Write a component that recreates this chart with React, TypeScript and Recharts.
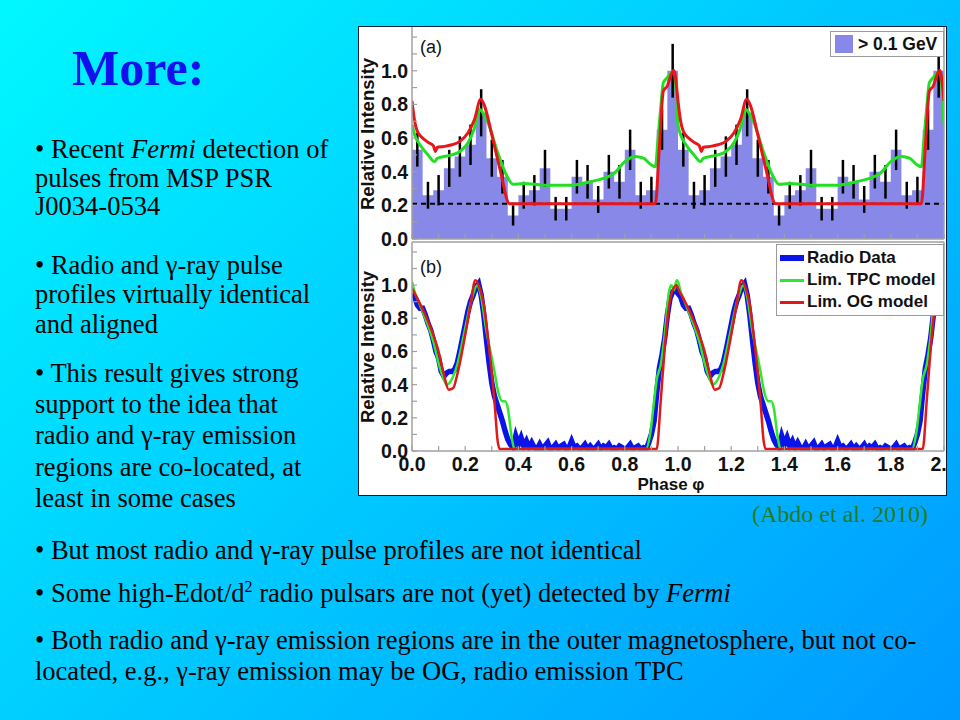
import { ComposedChart, Area, Line, Scatter, ErrorBar, XAxis, YAxis, ReferenceLine, Legend } from 'recharts'

// gamma-ray light curve (> 0.1 GeV), 25 bins per rotation, plotted over two rotations
const BIN_WIDTH = 0.04
const GAMMA_COUNTS = [0.53, 0.26, 0.29, 0.42, 0.49, 0.56, 0.75, 0.48, 0.37, 0.14, 0.26, 0.29, 0.42, 0.18, 0.18, 0.37, 0.34, 0.235, 0.4, 0.34, 0.53, 0.26, 0.29, 0.65, 1.0]
const GAMMA_ERRORS = [0.1, 0.08, 0.09, 0.11, 0.12, 0.12, 0.14, 0.11, 0.1, 0.06, 0.08, 0.09, 0.11, 0.07, 0.07, 0.1, 0.1, 0.08, 0.1, 0.1, 0.12, 0.08, 0.08, 0.12, 0.16]
const GAMMA_BACKGROUND = 0.21

// panel (a) model curves, one rotation
const TPC_A_PHASE = [0, 0.01, 0.03, 0.06, 0.085, 0.095, 0.12, 0.15, 0.18, 0.21, 0.235, 0.255, 0.27, 0.286, 0.323, 0.355, 0.38, 0.42, 0.5, 0.6, 0.67, 0.72, 0.76, 0.8, 0.84, 0.87, 0.9, 0.915, 0.925, 0.935, 0.945, 0.96, 0.975, 0.985, 0.995, 1.0]
const TPC_A = [0.68, 0.62, 0.56, 0.5, 0.46, 0.48, 0.49, 0.5, 0.52, 0.57, 0.66, 0.77, 0.74, 0.69, 0.51, 0.38, 0.325, 0.33, 0.32, 0.32, 0.34, 0.36, 0.39, 0.46, 0.49, 0.48, 0.44, 0.43, 0.6, 0.78, 0.93, 0.96, 0.99, 1.0, 0.82, 0.68]
const OG_A_PHASE = [0, 0.01, 0.02, 0.04, 0.06, 0.08, 0.088, 0.095, 0.12, 0.15, 0.18, 0.21, 0.235, 0.258, 0.273, 0.3, 0.33, 0.367, 0.915, 0.93, 0.945, 0.96, 0.975, 0.985, 0.995, 1.0]
const OG_A = [0.82, 0.7, 0.64, 0.6, 0.575, 0.555, 0.52, 0.545, 0.55, 0.56, 0.58, 0.63, 0.71, 0.83, 0.79, 0.62, 0.42, 0.21, 0.21, 0.55, 0.88, 0.91, 0.98, 1.0, 0.9, 0.82]

// panel (b) radio profile, sampled every 0.01 in phase
const RADIO_STEP = 0.01
const RADIO = [
  0.95, 0.93, 0.88, 0.86, 0.86, 0.82, 0.77, 0.73, 0.67, 0.6,
  0.56, 0.48, 0.45, 0.47, 0.48, 0.48, 0.49, 0.53, 0.6, 0.68,
  0.76, 0.84, 0.9, 0.94, 0.99, 1.01, 0.94, 0.82, 0.67, 0.53,
  0.41, 0.33, 0.28, 0.23, 0.18, 0.12, 0.07, 0.04, 0.02, 0.09,
  0.04, 0.08, 0.03, 0.06, 0.02, 0.05, 0.02, 0.01, 0.04, 0.01,
  0.03, 0.05, 0.01, 0.02, 0.04, 0.01, 0.03, 0.04, 0.01, 0.02,
  0.06, 0.02, 0.03, 0.01, 0.02, 0.04, 0.01, 0.03, 0.01, 0.02,
  0.04, 0.01, 0.03, 0.02, 0.04, 0.01, 0.02, 0.01, 0.03, 0.02,
  0.01, 0.02, 0.04, 0.01, 0.02, 0.03, 0.01, 0.02, 0.01, 0.05,
  0.1, 0.18, 0.35, 0.5, 0.58, 0.68, 0.82, 0.92, 0.96, 0.97,
  0.95,
]
const TPC_B_PHASE = [0, 0.01, 0.02, 0.05, 0.08, 0.1, 0.12, 0.13, 0.145, 0.17, 0.2, 0.225, 0.245, 0.26, 0.28, 0.295, 0.31, 0.325, 0.34, 0.35, 0.36, 0.375, 0.385, 0.88, 0.895, 0.91, 0.92, 0.935, 0.95, 0.965, 0.975, 0.985, 0.995, 1.0]
const TPC_B = [1.02, 0.96, 0.92, 0.8, 0.66, 0.53, 0.43, 0.4, 0.42, 0.52, 0.74, 0.92, 1.0, 0.93, 0.72, 0.6, 0.48, 0.35, 0.3, 0.3, 0.26, 0.08, 0.012, 0.012, 0.1, 0.3, 0.43, 0.52, 0.7, 0.95, 1.0, 0.97, 1.03, 1.02]
const OG_B_PHASE = [0, 0.02, 0.05, 0.08, 0.1, 0.12, 0.138, 0.155, 0.17, 0.2, 0.22, 0.238, 0.255, 0.27, 0.29, 0.31, 0.322, 0.33, 0.92, 0.935, 0.95, 0.965, 0.98, 0.995, 1.0]
const OG_B = [0.98, 0.92, 0.82, 0.7, 0.6, 0.46, 0.37, 0.38, 0.46, 0.7, 0.88, 1.03, 0.98, 0.88, 0.62, 0.3, 0.06, 0.012, 0.012, 0.3, 0.62, 0.86, 0.97, 1.0, 0.98]

const PHASE_TICKS = [0, 0.1, 0.2, 0.3, 0.4, 0.5, 0.6, 0.7, 0.8, 0.9, 1.0, 1.1, 1.2, 1.3, 1.4, 1.5, 1.6, 1.7, 1.8, 1.9, 2.0]
const INTENSITY_TICKS = [0, 0.1, 0.2, 0.3, 0.4, 0.5, 0.6, 0.7, 0.8, 0.9, 1.0, 1.1, 1.2]
const Y_MAX = 1.26

const SANS = "'Liberation Sans', Arial, Helvetica, sans-serif"
const SERIF = "'Liberation Serif', 'Times New Roman', Times, serif"
const AXIS = '#a0a0a0'

type Pt = { phase: number; value: number }

// the profile is phase-folded, so the same rotation is drawn twice (0-1 and 1-2)
function twoRotations(phases: number[], values: number[]): Pt[] {
  const out: Pt[] = []
  ;[0, 1].forEach((turn) => {
    phases.forEach((p, i) => {
      if (turn === 1 && i === 0) return
      out.push({ phase: +(p + turn).toFixed(4), value: values[i] })
    })
  })
  return out
}

const histData: Pt[] = []
;[0, 1].forEach((turn) => GAMMA_COUNTS.forEach((v, i) => histData.push({ phase: +(turn + i * BIN_WIDTH).toFixed(4), value: v })))
histData.push({ phase: 2, value: GAMMA_COUNTS[GAMMA_COUNTS.length - 1] })

const errData = [0, 1].flatMap((turn) =>
  GAMMA_COUNTS.map((v, i) => ({ phase: +(turn + (i + 0.5) * BIN_WIDTH).toFixed(4), value: v, err: GAMMA_ERRORS[i] }))
)

const radioData = twoRotations(RADIO.map((_, i) => +(i * RADIO_STEP).toFixed(2)), RADIO)
const tpcA = twoRotations(TPC_A_PHASE, TPC_A)
const ogA = twoRotations(OG_A_PHASE, OG_A)
const tpcB = twoRotations(TPC_B_PHASE, TPC_B)
const ogB = twoRotations(OG_B_PHASE, OG_B)

function PhaseTick(props: any) {
  const { x, y, payload, showLabel } = props
  const tenth = Math.round(payload.value * 10)
  return (
    <g>
      <line x1={x} y1={y} x2={x} y2={y - 5} stroke={AXIS} strokeWidth={1.2} />
      {showLabel && tenth % 2 === 0 && (
        <text x={x} y={y + 20} textAnchor="middle" fontFamily={SANS} fontWeight="bold" fontSize={19.5} fill="#111">
          {payload.value.toFixed(1)}
        </text>
      )}
    </g>
  )
}

function IntensityTick(props: any) {
  const { x, y, payload } = props
  const tenth = Math.round(payload.value * 10)
  return (
    <g>
      <line x1={x} y1={y} x2={x + 5} y2={y} stroke={AXIS} strokeWidth={1.2} />
      {tenth % 2 === 0 && tenth <= 10 && (
        <text x={x - 4} y={y + 7} textAnchor="end" fontFamily={SANS} fontWeight="bold" fontSize={19.5} fill="#111">
          {payload.value.toFixed(1)}
        </text>
      )}
    </g>
  )
}

function GammaLegend() {
  return (
    <div style={{ border: '1px solid #9a9a9a', background: '#fff', height: 26, boxSizing: 'border-box', display: 'flex', alignItems: 'center', padding: '0 4px', fontFamily: SANS, fontWeight: 'bold', fontSize: 17.5, color: '#111', whiteSpace: 'nowrap' }}>
      <span style={{ display: 'inline-block', width: 18, height: 18, background: '#8888e8', marginRight: 5 }} />
      &gt; 0.1 GeV
    </div>
  )
}

const MODEL_LEGEND = [
  { name: 'Radio Data', color: '#0a14e8', width: 6 },
  { name: 'Lim. TPC model', color: '#2ee82e', width: 3 },
  { name: 'Lim. OG model', color: '#e01818', width: 3 },
]

function ModelLegend() {
  return (
    <div style={{ border: '1px solid #9a9a9a', background: '#fff', padding: '2px 3px', boxSizing: 'border-box', fontFamily: SANS, fontWeight: 'bold', fontSize: 17, color: '#111', whiteSpace: 'nowrap' }}>
      {MODEL_LEGEND.map((m) => (
        <div key={m.name} style={{ display: 'flex', alignItems: 'center', height: 22 }}>
          <span style={{ display: 'inline-block', width: 24, height: m.width, background: m.color, marginRight: 3 }} />
          {m.name}
        </div>
      ))}
    </div>
  )
}

const axisLine = { stroke: AXIS, strokeWidth: 1.5 }

function PanelA() {
  return (
    <ComposedChart width={589} height={226} margin={{ top: 1, right: 3, bottom: 8, left: 10 }}>
      <XAxis type="number" dataKey="phase" domain={[0, 2]} ticks={PHASE_TICKS} interval={0} height={5} tickSize={0} tickMargin={0} axisLine={axisLine} tickLine={false} tick={(p: any) => <PhaseTick {...p} />} allowDataOverflow />
      <YAxis type="number" dataKey="value" domain={[0, Y_MAX]} ticks={INTENSITY_TICKS} interval={0} width={44} tickSize={0} tickMargin={0} axisLine={axisLine} tickLine={false} tick={(p: any) => <IntensityTick {...p} />} allowDataOverflow />
      <Area data={histData} dataKey="value" type="stepAfter" fill="#8888e8" fillOpacity={1} stroke="none" isAnimationActive={false} />
      <ReferenceLine y={GAMMA_BACKGROUND} stroke="#000" strokeDasharray="5 4" strokeWidth={2} />
      <Scatter data={errData} dataKey="value" shape={() => <g />} isAnimationActive={false}>
        <ErrorBar dataKey="err" direction="y" width={0} stroke="#000" strokeWidth={2.5} />
      </Scatter>
      <Line data={tpcA} dataKey="value" type="monotone" stroke="#21e021" strokeWidth={3} dot={false} isAnimationActive={false} />
      <Line data={ogA} dataKey="value" type="monotone" stroke="#e8161b" strokeWidth={3} dot={false} isAnimationActive={false} />
      <ReferenceLine x={2} stroke={AXIS} strokeWidth={1.5} />
      <Legend layout="vertical" align="center" verticalAlign="middle" wrapperStyle={{ left: 472, top: 5, width: 114 }} content={() => <GammaLegend />} />
    </ComposedChart>
  )
}

function PanelB() {
  return (
    <ComposedChart width={589} height={256} margin={{ top: 2, right: 3, bottom: 0, left: 10 }}>
      <XAxis type="number" dataKey="phase" domain={[0, 2]} ticks={PHASE_TICKS} interval={0} height={45} tickSize={0} tickMargin={0} axisLine={axisLine} tickLine={false} tick={(p: any) => <PhaseTick {...p} showLabel />} allowDataOverflow />
      <YAxis type="number" dataKey="value" domain={[0, Y_MAX]} ticks={INTENSITY_TICKS} interval={0} width={44} tickSize={0} tickMargin={0} axisLine={axisLine} tickLine={false} tick={(p: any) => <IntensityTick {...p} />} allowDataOverflow />
      <Line data={radioData} dataKey="value" type="linear" stroke="#0a14e8" strokeWidth={5.5} dot={false} isAnimationActive={false} />
      <Line data={tpcB} dataKey="value" type="monotone" stroke="#2ee82e" strokeWidth={2.5} dot={false} isAnimationActive={false} />
      <Line data={ogB} dataKey="value" type="monotone" stroke="#e01818" strokeWidth={2.5} dot={false} isAnimationActive={false} />
      <ReferenceLine x={2} stroke={AXIS} strokeWidth={1.5} />
      <ReferenceLine y={Y_MAX} stroke={AXIS} strokeWidth={1.5} />
      <Legend layout="vertical" align="center" verticalAlign="middle" wrapperStyle={{ left: 418, top: 4, width: 168 }} content={() => <ModelLegend />} />
    </ComposedChart>
  )
}

const LEFT_LINES: { y: number; parts: (string | { i: string })[] }[] = [
  { y: 158, parts: ['\u2022 Recent ', { i: 'Fermi' }, ' detection of'] },
  { y: 187, parts: ['pulses from MSP PSR'] },
  { y: 215, parts: ['J0034-0534'] },
  { y: 274, parts: ['\u2022 Radio and \u03b3-ray pulse'] },
  { y: 303, parts: ['profiles virtually identical'] },
  { y: 333, parts: ['and aligned'] },
  { y: 382, parts: ['\u2022 This result gives strong'] },
  { y: 413, parts: ['support to the idea that'] },
  { y: 444, parts: ['radio and \u03b3-ray emission'] },
  { y: 476, parts: ['regions are co-located, at'] },
  { y: 507, parts: ['least in some cases'] },
]

function SlideText() {
  const body = { fontFamily: SERIF, fontSize: 26.5, fill: '#000' }
  return (
    <svg width={960} height={720} style={{ position: 'absolute', left: 0, top: 0, pointerEvents: 'none' }}>
      <text x={72} y={85} fontFamily={SERIF} fontWeight="bold" fontSize={50} fill="#1111ee">More:</text>
      {LEFT_LINES.map((l) => (
        <text key={l.y} x={35} y={l.y} {...body}>
          {l.parts.map((p, k) => (typeof p === 'string' ? <tspan key={k}>{p}</tspan> : <tspan key={k} fontStyle="italic">{p.i}</tspan>))}
        </text>
      ))}
      <text x={752} y={522} fontFamily={SERIF} fontSize={24} fill="#267a1e">(Abdo et al. 2010)</text>
      <text x={35} y={559} {...body}>{'\u2022 But most radio and \u03b3-ray pulse profiles are not identical'}</text>
      <text x={35} y={602} {...body}>
        <tspan>{'\u2022 Some high-Edot/d'}</tspan>
        <tspan fontSize={16} dy={-10}>2</tspan>
        <tspan dy={10}>{' radio pulsars are not (yet) detected by '}</tspan>
        <tspan fontStyle="italic">Fermi</tspan>
      </text>
      <text x={35} y={649} {...body}>{'\u2022 Both radio and \u03b3-ray emission regions are in the outer magnetosphere, but not co-'}</text>
      <text x={35} y={680} {...body}>{'located, e.g., \u03b3-ray emission may be OG, radio emission TPC'}</text>

      {/* figure annotations */}
      <text x={420} y={53} fontFamily={SANS} fontSize={18} fill="#111">(a)</text>
      <text x={420} y={273} fontFamily={SANS} fontSize={18} fill="#111">(b)</text>
      <text transform="translate(374,134) rotate(-90)" textAnchor="middle" fontFamily={SANS} fontWeight="bold" fontSize={18.5} fill="#111">Relative Intensity</text>
      <text transform="translate(374,347) rotate(-90)" textAnchor="middle" fontFamily={SANS} fontWeight="bold" fontSize={18.5} fill="#111">Relative Intensity</text>
      <text x={671} y={490} textAnchor="middle" fontFamily={SANS} fontWeight="bold" fontSize={17} fill="#111">Phase {'\u03c6'}</text>
    </svg>
  )
}

export default function App() {
  return (
    <div style={{ position: 'absolute', left: 0, top: 0, width: 960, height: 720, overflow: 'hidden', background: 'linear-gradient(135deg, #00f8ff 0%, #0099ff 100%)' }}>
      <div style={{ position: 'absolute', left: 358, top: 26, width: 589, height: 470, background: '#fff', border: '1.5px solid #0b1f3a', boxSizing: 'border-box' }} />
      <div style={{ position: 'absolute', left: 358, top: 26 }}>
        <PanelA />
      </div>
      <div style={{ position: 'absolute', left: 358, top: 240 }}>
        <PanelB />
      </div>
      <SlideText />
    </div>
  )
}
